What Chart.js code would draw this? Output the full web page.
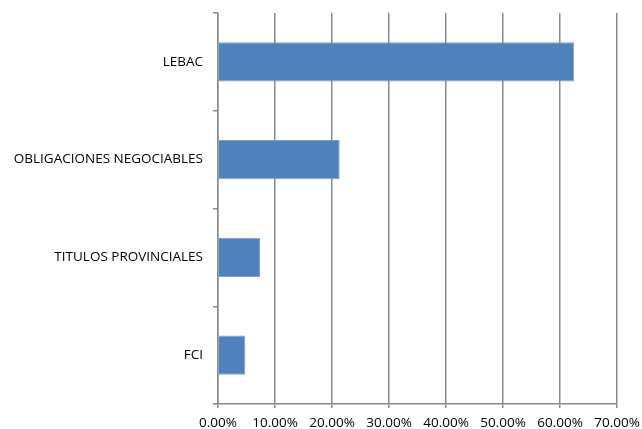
<!DOCTYPE html>
<html>
<head>
<meta charset="utf-8">
<script src="https://cdn.jsdelivr.net/npm/chart.js@4/dist/chart.umd.min.js"></script>
<style>
  html, body { margin: 0; padding: 0; background: #fff; }
  #wrap { width: 642px; height: 429px; }
</style>
</head>
<body>
<div id="wrap"><canvas id="chart"></canvas></div>
<script>
const categories = ['LEBAC', 'OBLIGACIONES NEGOCIABLES', 'TITULOS PROVINCIALES', 'FCI'];
const shares = [0.6245, 0.2135, 0.0737, 0.0479];
const xTicks = [0, 0.1, 0.2, 0.3, 0.4, 0.5, 0.6, 0.7];

const font = { family: "'Open Sans', 'Liberation Sans', sans-serif", size: 13.5 };

new Chart(document.getElementById('chart'), {
  type: 'bar',
  data: {
    labels: categories,
    datasets: [{
      data: shares,
      backgroundColor: '#4f81bd',
      borderColor: '#7aa0cf',
      borderWidth: 1,
      barPercentage: 0.4,
      categoryPercentage: 1
    }]
  },
  options: {
    indexAxis: 'y',
    responsive: true,
    maintainAspectRatio: false,
    animation: false,
    layout: { padding: { top: 13, right: 25, left: 0, bottom: 0 } },
    plugins: { legend: { display: false }, tooltip: { enabled: false } },
    scales: {
      x: {
        min: 0,
        max: 0.7,
        afterBuildTicks: (axis) => { axis.ticks = xTicks.map(v => ({ value: v })); },
        afterFit: (axis) => {
          axis.height = 25;
          // let the last label run off the edge like the original
          axis.paddingLeft = 0;
          axis.paddingRight = 0;
        },
        ticks: {
          color: '#000',
          font: font,
          padding: 7,
          maxRotation: 0,
          autoSkip: false,
          callback: (v) => (v * 100).toFixed(2) + '%'
        },
        grid: { color: '#8a8a8a', lineWidth: 1.5, tickLength: 4 },
        border: { color: '#8a8a8a', width: 1.5 }
      },
      y: {
        afterFit: (axis) => {
          axis.width = 218;
          axis.paddingTop = 0;
          axis.paddingBottom = 0;
        },
        ticks: { color: '#000', font: font, padding: 10 },
        grid: { offset: true, drawOnChartArea: false, tickLength: 5, color: '#8a8a8a', lineWidth: 1.5 },
        border: { color: '#8a8a8a', width: 1.5 }
      }
    }
  }
});
</script>
</body>
</html>
